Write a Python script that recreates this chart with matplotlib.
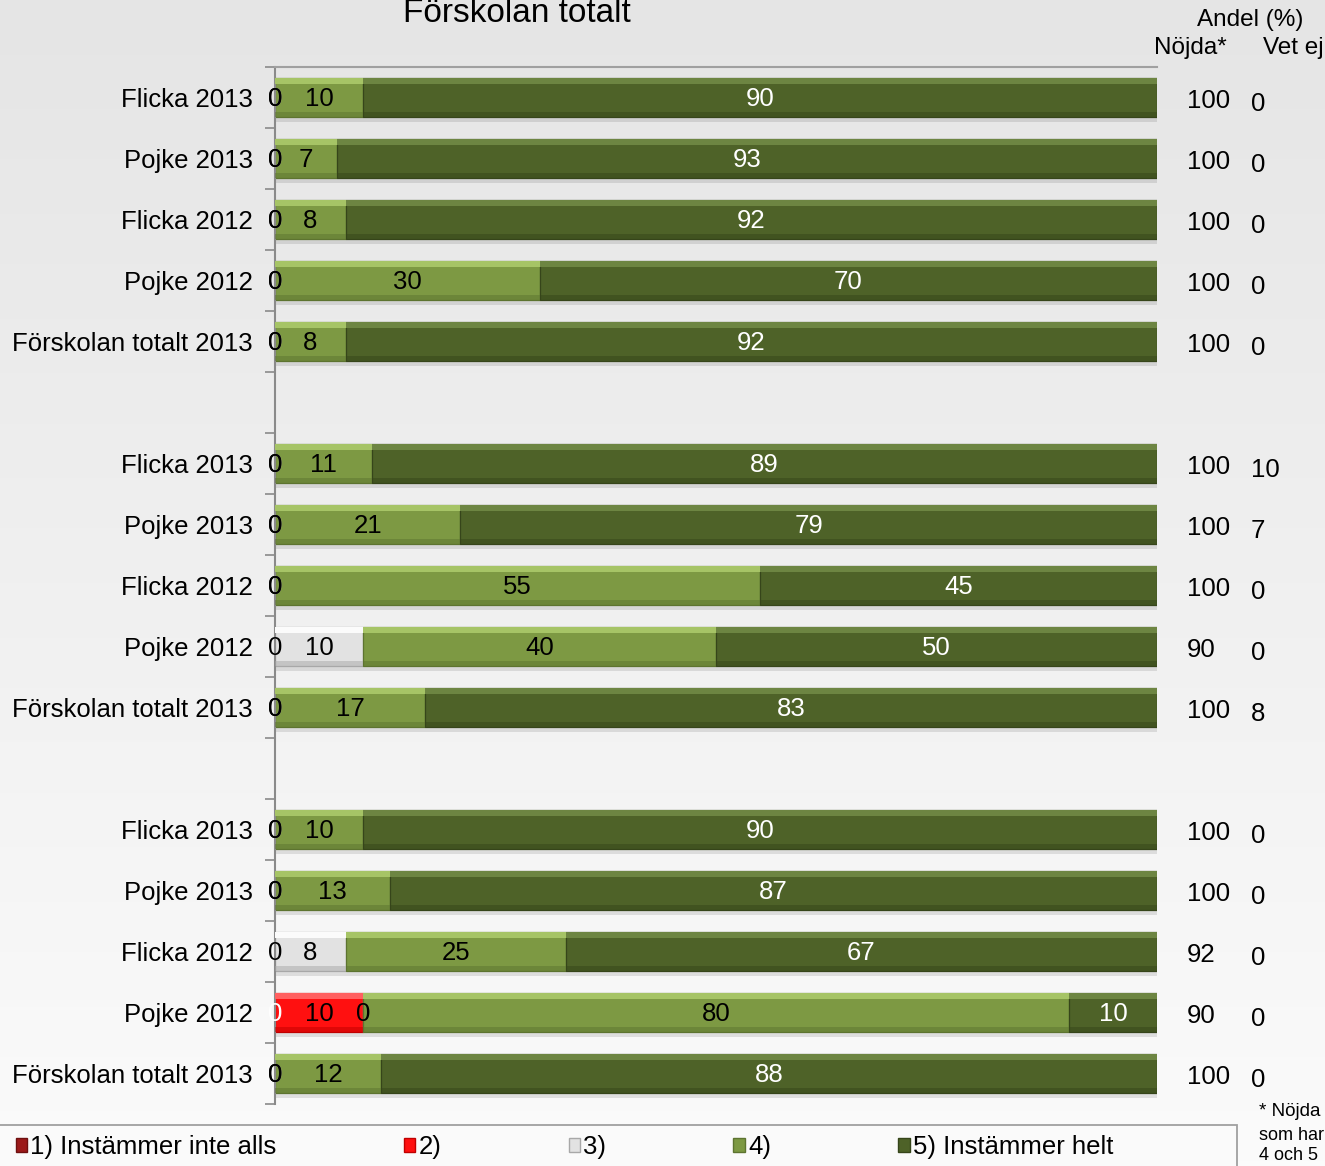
import matplotlib
matplotlib.use("Agg")
import matplotlib.pyplot as plt
import numpy as np
from matplotlib.patches import Patch, Rectangle

plt.rcParams.update({
    "font.family": ["Liberation Sans", "DejaVu Sans"],
    "font.size": 18,
})

W, H = 1325, 1166

# --- data ------------------------------------------------------------------
rows = ["Flicka 2013", "Pojke 2013", "Flicka 2012", "Pojke 2012",
        "Förskolan totalt 2013"] * 3
s1 = [0, 0, 0, 0, 0, 0, 0, 0, 0, 0, 0, 0, 0, 0, 0]
s2 = [0, 0, 0, 0, 0, 0, 0, 0, 0, 0, 0, 0, 0, 10, 0]
s3 = [0, 0, 0, 0, 0, 0, 0, 0, 10, 0, 0, 0, 8, 0, 0]
s4 = [10, 7, 8, 30, 8, 11, 21, 55, 40, 17, 10, 13, 25, 80, 12]
s5 = [90, 93, 92, 70, 92, 89, 79, 45, 50, 83, 90, 87, 67, 10, 88]
nojda = [100, 100, 100, 100, 100, 100, 100, 100, 90, 100,
         100, 100, 92, 90, 100]
vetej = [0, 0, 0, 0, 0, 10, 7, 0, 0, 8, 0, 0, 0, 0, 0]

legend_labels = ["1) Instämmer inte alls", "2)", "3)", "4)",
                 "5) Instämmer helt"]

# series style: (main, light, edge, label colour)
STYLE = [
    ("#9c1a1a", "#c84a4a", "#6e1010", "white"),
    ("#ff1010", "#ff6060", "#c00000", "black"),
    ("#e2e2e2", "#fbfbfb", "#a8a8a8", "black"),
    ("#7d9943", "#a6c466", "#5d7430", "black"),
    ("#4e6228", "#6d8542", "#36451a", "white"),
]

FS = 18.5


def px(x, y):
    return x / W, 1 - y / H


fig = plt.figure(figsize=(W / 100, H / 100), dpi=100)

# gradient background
bg = fig.add_axes([0, 0, 1, 1], zorder=-10)
grad = np.linspace(0, 1, 256).reshape(-1, 1)
bg.imshow(grad, aspect="auto", cmap=matplotlib.colors.LinearSegmentedColormap
          .from_list("bg", ["#e5e5e5", "#fbfbfb"]), extent=[0, 1, 0, 1])
bg.axis("off")

l, r, t, b = 275, 1157, 67, 1104
ax = fig.add_axes([l / W, 1 - b / H, (r - l) / W, (b - t) / H])
ax.set_facecolor("none")

slots = [i + i // 5 for i in range(len(rows))]
series = [s1, s2, s3, s4, s5]
bh = 0.65

left = np.zeros(len(rows))
for k, vals in enumerate(series):
    main, light, edge, tcol = STYLE[k]
    vals = np.array(vals, dtype=float)
    ys = np.array(slots, dtype=float)
    # soft shadow
    ax.barh(ys + 0.07, vals, left=left, height=bh, color="black",
            alpha=0.10, zorder=1, linewidth=0)
    ax.barh(ys, vals, left=left, height=bh, color=main, edgecolor=edge,
            linewidth=0.9, zorder=2)
    ax.barh(ys - bh / 2 + 0.06, vals, left=left, height=0.10, color=light,
            zorder=3, linewidth=0)
    ax.barh(ys + bh / 2 - 0.05, vals, left=left, height=0.08, color=edge,
            alpha=0.5, zorder=3, linewidth=0)
    for i, v in enumerate(vals):
        ax.text(left[i] + v / 2, ys[i] + 0.03, f"{int(v)}", ha="center",
                va="center", color=tcol, fontsize=FS, zorder=5 + (k > 0))
    left += vals

ax.set_xlim(0, 100)
ax.set_ylim(16.5, -0.5)
ax.set_xticks([])
ax.set_yticks(slots)
ax.set_yticklabels(rows, fontsize=FS)
ax.tick_params(axis="y", which="major", length=0, pad=16)
ax.set_yticks(np.arange(-0.5, 17, 1.0), minor=True)
ax.tick_params(axis="y", which="minor", length=7, width=1.2, color="#8a8a8a",
               direction="out")
for name in ("right", "bottom"):
    ax.spines[name].set_visible(False)
ax.spines["left"].set_color("#8a8a8a")
ax.spines["left"].set_linewidth(1.5)
ax.spines["top"].set_color("#a0a0a0")
ax.spines["top"].set_linewidth(1.5)

# right-hand columns
yt = ax.get_yaxis_transform()
xa = lambda x: (x - l) / (r - l)
for i, s in enumerate(slots):
    ax.text(xa(1187), s + 0.05, f"{nojda[i]}", ha="left", va="center",
            transform=yt, clip_on=False, fontsize=FS)
    ax.text(xa(1251), s + 0.1, f"{vetej[i]}", ha="left", va="center",
            transform=yt, clip_on=False, fontsize=FS)

fig.text(*px(1250, 20), "Andel (%)", ha="center", va="center", fontsize=17.5)
fig.text(*px(1190, 48), "Nöjda*", ha="center", va="center", fontsize=17.5)
fig.text(*px(1263, 48), "Vet ej", ha="left", va="center", fontsize=17.5)
fig.text(*px(517, 14), "Förskolan totalt", ha="center", va="center",
         fontsize=24)

# footnote
fig.text(*px(1259, 1112), "* Nöjda", ha="left", va="center", fontsize=13.5)
fig.text(*px(1259, 1135), "som har", ha="left", va="center", fontsize=13)
fig.text(*px(1259, 1156), "4 och 5", ha="left", va="center", fontsize=13)

# legend
fig.patches.append(Rectangle(px(-5, 1200), 1242 / W, 75 / H,
                             transform=fig.transFigure, facecolor="#fafafa",
                             edgecolor="#a0a0a0", linewidth=1.3, zorder=-5))
handles = [Patch(facecolor=s[0], edgecolor=s[2]) for s in STYLE]
fig.legend(handles, legend_labels, loc="center left",
           bbox_to_anchor=px(3, 1147), ncol=5, frameon=False, fontsize=FS,
           borderpad=0, handlelength=0.45, handleheight=0.45,
           handletextpad=0.12, columnspacing=4.95)

fig.savefig("out.png", dpi=100)
